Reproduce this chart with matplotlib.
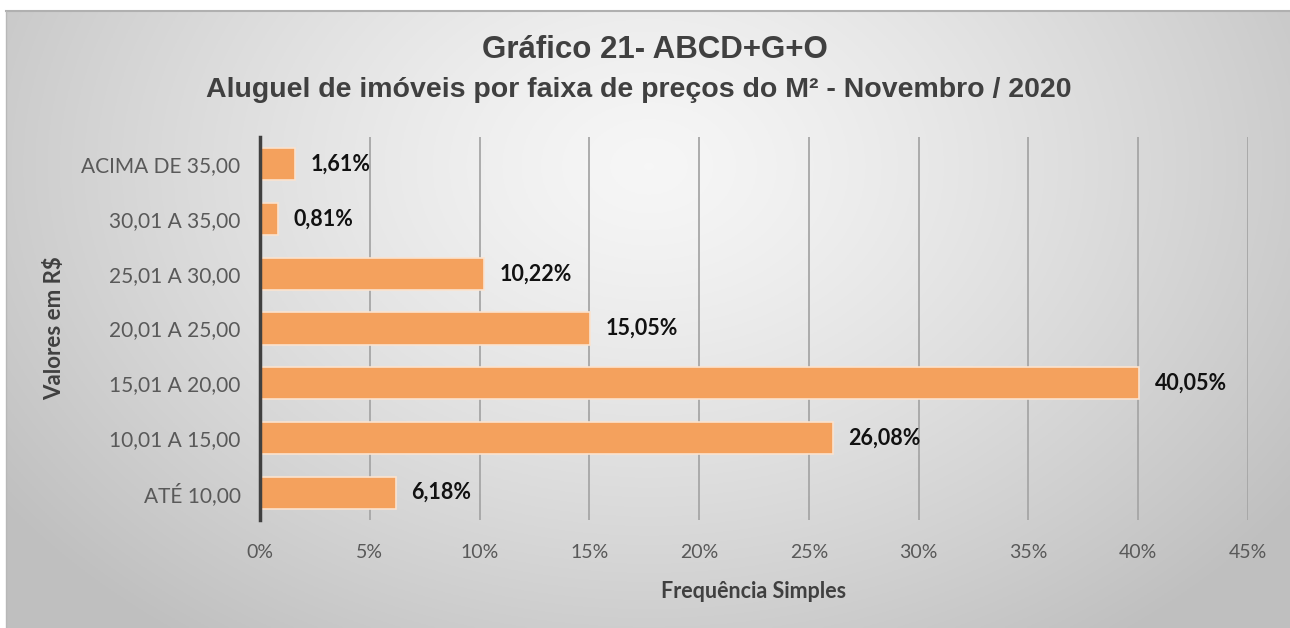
import numpy as np
import matplotlib
matplotlib.use('Agg')
import matplotlib.pyplot as plt
from matplotlib.ticker import FuncFormatter

# dados do gráfico
faixas = ['ATÉ 10,00', '10,01 A 15,00', '15,01 A 20,00', '20,01 A 25,00',
          '25,01 A 30,00', '30,01 A 35,00', 'ACIMA DE 35,00']
freq = [6.18, 26.08, 40.05, 15.05, 10.22, 0.81, 1.61]
rotulos = ['6,18%', '26,08%', '40,05%', '15,05%', '10,22%', '0,81%', '1,61%']

plt.rcParams['font.family'] = ['Lato', 'DejaVu Sans']

fig = plt.figure(figsize=(12.9, 6.28), dpi=100)
fig.patch.set_facecolor('white')

# fundo com gradiente radial (estilo Excel)
bg = fig.add_axes([6 / 1290, 0, 1 - 6 / 1290, 1 - 11 / 628])
ny, nx = 300, 600
yy, xx = np.mgrid[0:ny, 0:nx]
cx, cy = nx * 0.5, ny * 0.25
r = np.sqrt(((xx - cx) / (nx * 0.62)) ** 2 + ((yy - cy) / (ny * 0.95)) ** 2)
r = np.clip(r, 0, 1)
val = 0.965 - 0.215 * r ** 1.3
bg.imshow(np.dstack([val, val, val]), aspect='auto', extent=[0, 1, 0, 1], origin='upper')
bg.set_xlim(0, 1)
bg.set_ylim(0, 1)
bg.axis('off')
bg.plot([0, 1], [1, 1], color='#b0b0b0', lw=1.5, transform=bg.transAxes, clip_on=False)
bg.plot([0, 0], [0, 1], color='#b8b8b8', lw=1.0, transform=bg.transAxes, clip_on=False)

ax = fig.add_axes([260 / 1290, 1 - 520 / 628, (1248 - 260) / 1290, (520 - 137) / 628])
ax.patch.set_alpha(0)

y = np.arange(len(faixas))
ax.barh(y, freq, height=0.59, color='#F4A15D', edgecolor='#FBE3CF', linewidth=1.2, zorder=3)

for yi, v, t in zip(y, freq, rotulos):
    ax.text(v + 0.7, yi, t, va='center', ha='left', fontsize=15.5, fontweight='bold',
            color='#111111', zorder=4)

ax.set_xlim(0, 45)
ax.set_ylim(-0.5, len(faixas) - 0.5)
ax.set_xticks(np.arange(0, 46, 5))
ax.xaxis.set_major_formatter(FuncFormatter(lambda v, p: '%d%%' % v))
ax.set_yticks(y)
ax.set_yticklabels(faixas)
ax.grid(axis='x', color='#a6a6a6', linewidth=1.3, zorder=0)
ax.tick_params(axis='both', length=0, colors='#595959')
ax.tick_params(axis='x', pad=17, labelsize=14)
ax.tick_params(axis='y', pad=14, labelsize=15)

for s in ['top', 'right', 'bottom']:
    ax.spines[s].set_visible(False)
ax.spines['left'].set_color('#404040')
ax.spines['left'].set_linewidth(2.5)
ax.spines['left'].set_zorder(5)

ax.set_xlabel('Frequência Simples', fontsize=15.5, fontweight='bold', color='#404040', labelpad=15)
ax.set_ylabel('Valores em R$', fontsize=16, fontweight='bold', color='#404040', labelpad=12)

fig.text(0.508, 1 - 50 / 628, 'Gráfico 21- ABCD+G+O', ha='center', va='center',
         fontsize=22.5, fontweight='bold', color='#404040', family='Liberation Sans')
fig.text(0.495, 1 - 90 / 628, 'Aluguel de imóveis por faixa de preços do M² - Novembro / 2020',
         ha='center', va='center', fontsize=20.5, fontweight='bold', color='#404040',
         family='Liberation Sans')

fig.savefig('out.png', dpi=100)
